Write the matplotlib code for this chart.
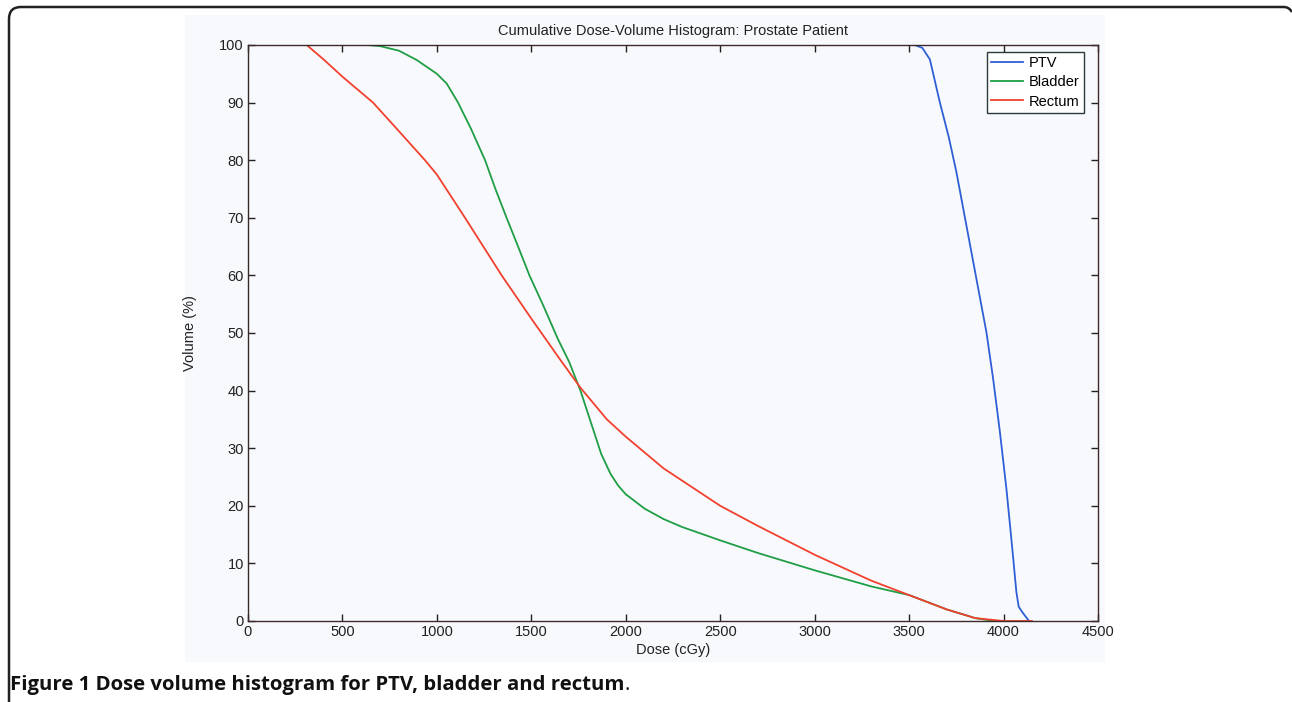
import matplotlib
matplotlib.use("Agg")
import matplotlib.pyplot as plt
from matplotlib.path import Path
from matplotlib.patches import PathPatch, Rectangle

# ---- data ----
ptv_dose = [0, 3530, 3570, 3610, 3663, 3710, 3750, 3790, 3830, 3870, 3910, 3945, 3980, 4015, 4045, 4068, 4080, 4100, 4135]
ptv_vol = [100, 100, 99.5, 97.5, 90, 84, 78, 71, 64, 57, 50, 42, 33, 23, 13, 5, 2.5, 1.5, 0]

bladder_dose = [0, 630, 700, 800, 893, 1000, 1052, 1112, 1180, 1255, 1310, 1369, 1430, 1490, 1560, 1640,
                1700, 1760, 1820, 1870, 1920, 1960, 2000, 2100, 2200, 2300, 2500, 2700, 3000, 3300, 3500,
                3700, 3850, 3950]
bladder_vol = [100, 100, 99.8, 99, 97.4, 95, 93.3, 90, 85.5, 80, 75, 70, 65, 60, 55, 49,
               45, 40, 34, 29, 25.5, 23.5, 22, 19.5, 17.7, 16.3, 14, 11.8, 8.8, 6, 4.5,
               2, 0.5, 0]

rectum_dose = [0, 311, 400, 500, 662, 800, 937, 1000, 1149, 1343, 1500, 1650, 1760, 1900, 2000, 2200,
               2500, 2700, 3000, 3300, 3500, 3700, 3850, 4000, 4150]
rectum_vol = [100, 100, 97.5, 94.5, 90, 85, 80, 77.5, 70, 60, 52.5, 45.5, 40.5, 35, 32, 26.5,
              20, 16.5, 11.5, 7, 4.5, 2, 0.5, 0, 0]

series_names = ["PTV", "Bladder", "Rectum"]
x_ticks = [0, 500, 1000, 1500, 2000, 2500, 3000, 3500, 4000, 4500]
y_ticks = [0, 10, 20, 30, 40, 50, 60, 70, 80, 90, 100]

W, H = 1292, 702
fig = plt.figure(figsize=(W / 100, H / 100), dpi=100)
fig.patch.set_facecolor("white")


def fx(x):
    return x / W


def fy(y):
    return 1 - y / H


# tinted chart image background
bg = Rectangle((fx(185), fy(662)), 920 / W, 647 / H, transform=fig.transFigure,
               facecolor="#f8f9fc", edgecolor="none", zorder=-10)
fig.add_artist(bg)

# rounded border (open at bottom and right)
verts = [(fx(9), fy(702)), (fx(9), fy(19)), (fx(9), fy(7)), (fx(21), fy(7)),
         (fx(1284), fy(7)), (fx(1289), fy(7)), (fx(1292), fy(12))]
codes = [Path.MOVETO, Path.LINETO, Path.CURVE3, Path.CURVE3, Path.LINETO, Path.CURVE3, Path.CURVE3]
fig.add_artist(PathPatch(Path(verts, codes), transform=fig.transFigure, facecolor="none",
                         edgecolor="#222222", linewidth=1.8, zorder=-5))

ax = fig.add_axes([248 / W, 1 - 621 / H, 850 / W, 576 / H])
ax.set_zorder(1)
ax.set_facecolor("#f8f9fc")

fam = ["Liberation Sans", "DejaVu Sans"]
ax.plot(ptv_dose, ptv_vol, color="#2f5fd6", lw=1.3, label=series_names[0])
ax.plot(bladder_dose, bladder_vol, color="#1f9e45", lw=1.3, label=series_names[1])
ax.plot(rectum_dose, rectum_vol, color="#f2402e", lw=1.3, label=series_names[2])

ax.set_xlim(0, 4500)
ax.set_ylim(0, 100)
ax.set_xticks(x_ticks)
ax.set_yticks(y_ticks)
ax.tick_params(direction="in", length=5, width=1, top=True, right=True, labelsize=10.5, colors="#222222",
               pad=3)
for lab in ax.get_xticklabels() + ax.get_yticklabels():
    lab.set_family(fam)
for s in ax.spines.values():
    s.set_color("#3a2a2a")
    s.set_linewidth(1.0)

ax.set_title("Cumulative Dose-Volume Histogram: Prostate Patient", fontsize=10.5, family=fam,
             color="#222222", pad=7)
ax.set_xlabel("Dose (cGy)", fontsize=10.5, family=fam, color="#222222", labelpad=3)
ax.set_ylabel("Volume (%)", fontsize=10.5, family=fam, color="#222222", labelpad=16)

leg = ax.legend(loc="upper right", bbox_to_anchor=(fx(1084), fy(52)), bbox_transform=fig.transFigure,
                borderaxespad=0, fancybox=False, framealpha=1, facecolor="white", edgecolor="#2a3a3a",
                prop={"family": fam, "size": 10.5}, handlelength=2.2,
                labelspacing=0.35, handletextpad=0.4, borderpad=0.3)
leg.get_frame().set_linewidth(1.0)

cap = fig.text(fx(10), fy(690), "Figure 1 Dose volume histogram for PTV, bladder and rectum",
               family=["Open Sans", "DejaVu Sans"], fontweight="bold", fontsize=14.7, color="#111111",
               va="baseline", ha="left")
fig.canvas.draw()
bb = cap.get_window_extent(fig.canvas.get_renderer())
fig.text(bb.x1 / W, fy(690), ".", family=["Open Sans", "DejaVu Sans"], fontsize=14.7,
         color="#111111", va="baseline", ha="left")

fig.savefig("out.png", dpi=100)
